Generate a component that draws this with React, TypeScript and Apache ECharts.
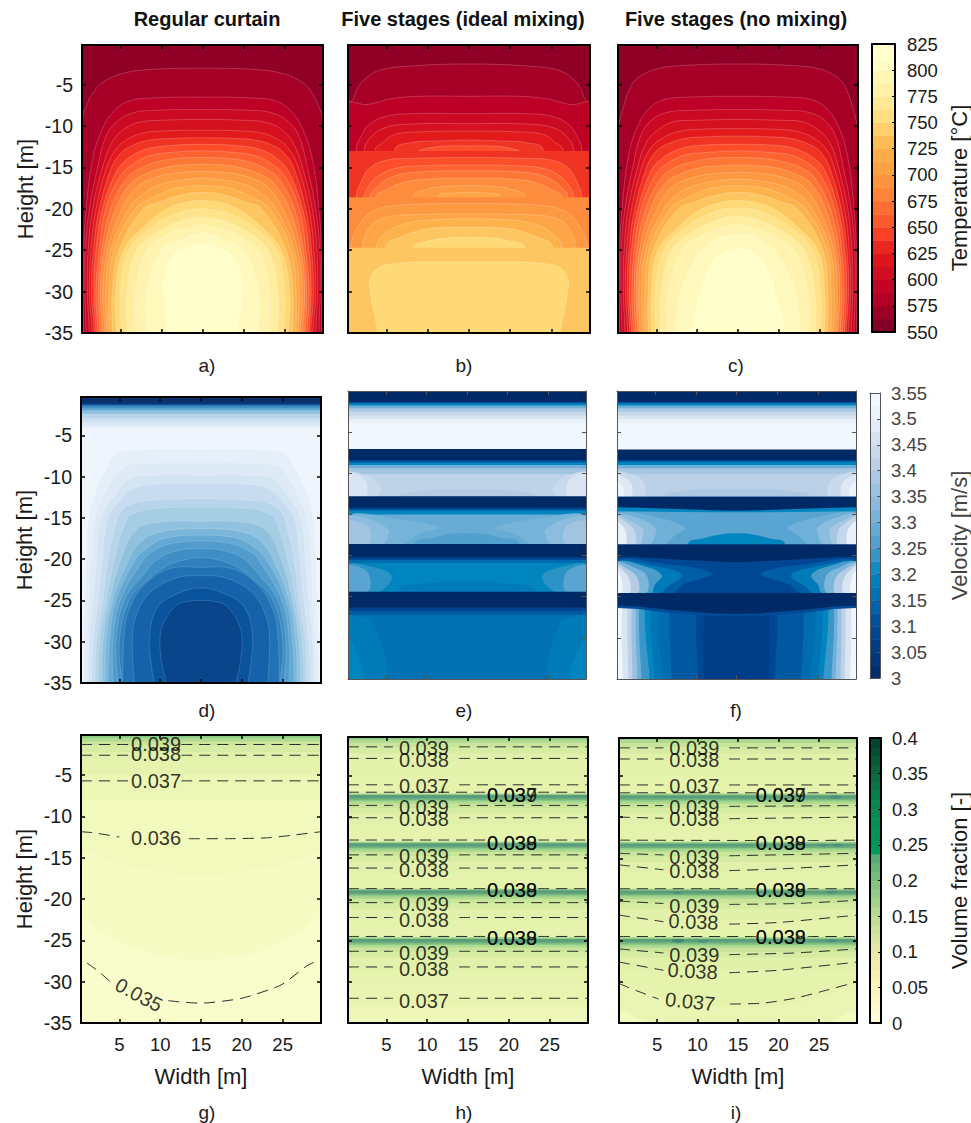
import React, { useEffect, useRef } from "react";
import * as echarts from "echarts";

type Region = [number, number | number[], number?];

const xTicks = [5, 10, 15, 20, 25];
const yTicks = [-5, -10, -15, -20, -25, -30, -35];
const columnTitles = ["Regular curtain", "Five stages (ideal mixing)", "Five stages (no mixing)"];
const panelLetters = ["a)", "b)", "c)", "d)", "e)", "f)", "g)", "h)", "i)"];

const panelA: Region[] = [
  [562.5, 0],
  [575, [0.3, -9.5, 1, -7.2, 2, -5.5, 3, -4.6, 5, -3.7, 8, -3.2, 15, -3]],
  [587.5, [0.5, -35, 0.45, -30, 0.5, -25, 0.8, -20, 1.5, -14.5, 2.5, -11, 4, -8.4, 6, -7, 9, -6.6, 15, -6.5]],
  [600, [0.8, -35, 0.65, -30, 0.7, -25, 1.2, -20, 2.2, -15, 3.2, -11.3, 4.5, -9.5, 6.5, -8.4, 9, -8.1, 15, -8]],
  [612.5, [1.2, -35, 0.95, -30, 1.05, -25, 1.6, -20, 2.8, -15, 3.8, -12.3, 5, -10.7, 7, -9.6, 10, -9.3, 15, -9.2]],
  [625, [1.55, -35, 1.2, -30, 1.4, -25, 2, -20, 3.3, -15, 4.3, -13, 5.5, -11.8, 7.5, -10.9, 10, -10.6, 15, -10.5]],
  [637.5, [1.8, -35, 1.45, -30, 1.7, -25, 2.4, -20, 3.9, -15, 5, -13.3, 6.5, -12.3, 8.5, -11.7, 11, -11.5, 15, -11.4]],
  [650, [2, -35, 1.75, -30, 2, -25, 2.8, -20, 4.5, -15.5, 5.8, -14, 7.5, -13, 9.5, -12.5, 15, -12.2]],
  [662.5, [2.25, -35, 2, -30, 2.4, -25, 3.2, -20, 5, -16, 6.5, -14.6, 8.5, -13.6, 11, -13.2, 15, -13]],
  [675, [2.5, -35, 2.3, -30, 2.7, -25, 3.8, -20, 5.6, -16.5, 7.2, -15.2, 9.5, -14.3, 12, -13.9, 15, -13.8]],
  [687.5, [2.8, -35, 2.55, -30, 3, -25, 4.4, -20, 6.2, -17, 8, -15.8, 10.5, -15, 12.5, -14.7, 15, -14.6]],
  [700, [3.1, -35, 2.85, -30, 3.4, -25, 5.2, -20, 7, -17.4, 9, -16.3, 11.5, -15.7, 15, -15.5]],
  [712.5, [3.35, -35, 3.2, -30, 3.8, -25, 6, -20, 8, -18, 10, -17, 12.5, -16.5, 15, -16.3]],
  [725, [3.6, -35, 3.6, -30, 4.2, -25, 6.8, -20, 9, -18.6, 11, -17.7, 13, -17.3, 15, -17.2]],
  [737.5, [4, -35, 4, -30, 4.8, -25, 7.8, -20, 10, -19.1, 12, -18.4, 15, -18]],
  [750, [4.5, -35, 4.4, -30, 5.4, -25, 8, -22, 10.7, -20, 13, -19.2, 15, -19]],
  [762.5, [5.1, -35, 5, -30, 6, -25, 9, -22, 12, -20.5, 15, -20]],
  [775, [5.8, -35, 5.8, -30, 7, -25, 10, -22.5, 13, -21.3, 15, -21]],
  [787.5, [6.8, -35, 6.8, -30, 8.2, -25, 11, -23, 13.5, -22.2, 15, -21.9]],
  [800, [8.2, -35, 8.2, -30, 10, -25, 12.5, -23.7, 15, -22.9]],
  [812.5, [10.7, -35, 10.2, -30, 10.4, -27.5, 11.5, -25.5, 12.5, -25, 15, -24.2]],
];

const panelB: Region[] = [
  [562.5, 0],
  [575, [0.3, -7.3, 0.9, -6.8, 1.4, -5.5, 2.5, -4.2, 4, -3.3, 7, -2.8, 15, -2.5]],
  [587.5, [0.3, -7.4, 2.5, -7.4, 4, -7.1, 5.5, -6.7, 9, -6.4, 15, -6.4]],
  [600, [1.3, -12.9, 2, -11, 3, -9.7, 5, -8.8, 8, -8.5, 15, -8.5]],
  [612.5, [2.3, -12.9, 3, -11.4, 4.5, -10.3, 7, -9.8, 15, -9.7]],
  [625, [3.6, -12.9, 4.5, -12, 6, -11, 9, -10.7, 15, -10.6]],
  [637.5, [6, -12.9, 8, -12, 11, -11.8, 15, -11.7]],
  [650, [9.1, -13, 11, -12.5, 15, -12.4], 2],
  [637.5, -13],
  [650, [1.3, -18.6, 2, -16.5, 3, -15, 5, -14.1, 8, -13.9, 15, -13.8]],
  [662.5, [2.3, -18.6, 3, -17, 4, -16, 6, -15.1, 9, -14.8, 15, -14.7]],
  [675, [3, -18.6, 4, -17.2, 5.5, -16.2, 8, -15.6, 15, -15.4]],
  [687.5, [3.7, -18.6, 5, -17.7, 7, -16.8, 10, -16.4, 15, -16.3]],
  [700, [8.2, -18.6, 10, -17.6, 12, -17.3, 15, -17.2]],
  [712.5, [11.2, -18.6, 13, -18.1, 15, -18]],
  [687.5, -18.6],
  [700, [0.6, -24.7, 1.9, -21.6, 3.5, -20.2, 6, -19.6, 10, -19.4, 15, -19.35]],
  [712.5, [2.1, -24.7, 3.1, -22, 5, -21, 8, -20.7, 15, -20.6]],
  [725, [3.7, -24.7, 5.2, -22.7, 8, -21.6, 11, -21.3, 15, -21.2]],
  [737.5, [4.8, -24.7, 7, -23.3, 10, -22.4, 15, -22.2]],
  [750, [8.2, -24.7, 10, -23.9, 12.5, -23.5, 15, -23.45]],
  [737.5, -24.7],
  [750, [3.9, -35, 3, -30, 3, -28.4, 4, -27.1, 6, -26.6, 10, -26.4, 15, -26.4]],
];

const panelC: Region[] = [
  [562.5, 0],
  [575, [0.3, -11, 1, -7.6, 2, -5, 3, -4, 5, -3.1, 8, -2.7, 15, -2.5]],
  [587.5, [0.5, -35, 0.45, -30, 0.5, -25, 0.8, -20, 1.5, -14, 2.5, -10.5, 4, -8, 6, -6.8, 9, -6.5, 15, -6.4]],
  [600, [0.8, -35, 0.65, -30, 0.7, -25, 1.15, -20, 2.1, -15, 3.1, -11.1, 4.5, -9.2, 6.5, -8.3, 9, -8.1, 15, -8]],
  [612.5, [1.15, -35, 0.95, -30, 1.05, -25, 1.55, -20, 2.7, -15, 3.7, -12.1, 5, -10.6, 7, -9.5, 10, -9.3, 15, -9.2]],
  [625, [1.5, -35, 1.2, -30, 1.35, -25, 1.95, -20, 3.2, -15, 4.2, -12.8, 5.5, -11.6, 7.5, -10.7, 10, -10.4, 15, -10.3]],
  [637.5, [1.75, -35, 1.45, -30, 1.65, -25, 2.35, -20, 3.8, -15, 4.9, -13.1, 6.5, -12.1, 8.5, -11.5, 11, -11.3, 15, -11.2]],
  [650, [1.95, -35, 1.7, -30, 1.95, -25, 2.75, -20, 4.4, -15.3, 5.7, -13.9, 7.5, -12.9, 9.5, -12.4, 15, -12.2]],
  [662.5, [2.2, -35, 2, -30, 2.3, -25, 3.15, -20, 4.9, -15.9, 6.4, -14.5, 8.5, -13.5, 11, -13.2, 15, -13]],
  [675, [2.45, -35, 2.3, -30, 2.6, -25, 3.7, -20, 5.5, -16.4, 7.1, -15.1, 9.5, -14.3, 12, -13.9, 15, -13.8]],
  [687.5, [2.75, -35, 2.55, -30, 2.95, -25, 4.3, -20, 6.1, -16.9, 7.9, -15.8, 10.5, -15, 12.5, -14.8, 15, -14.7]],
  [700, [3, -35, 2.85, -30, 3.3, -25, 5.1, -20, 6.9, -17.4, 8.9, -16.4, 11.5, -15.8, 15, -15.6]],
  [712.5, [3.3, -35, 3.2, -30, 3.7, -25, 5.9, -20, 7.9, -18, 9.9, -17.1, 12.5, -16.6, 15, -16.4]],
  [725, [3.6, -35, 3.6, -30, 4.1, -25, 6.7, -20, 8.9, -18.6, 11, -17.7, 13, -17.3, 15, -17.2]],
  [737.5, [4, -35, 4, -30, 4.6, -25, 7.7, -20, 9.9, -19.1, 12, -18.4, 15, -18]],
  [750, [4.4, -35, 4.4, -30, 5.2, -25, 7.9, -22, 10.6, -20, 13, -19.2, 15, -19]],
  [762.5, [4.9, -35, 4.9, -30, 5.9, -25, 8.9, -22, 12, -20.4, 15, -19.9]],
  [775, [5.5, -35, 5.6, -30, 6.9, -25, 9.9, -22.5, 13, -21.2, 15, -20.9]],
  [787.5, [6.3, -35, 6.5, -30, 8.1, -25, 11, -23, 13.5, -22.2, 15, -21.9]],
  [800, [7.3, -35, 8, -30, 9.8, -26, 12, -23.8, 15, -23]],
  [812.5, [9.2, -35, 10.5, -30, 11.3, -27.5, 12.5, -25.8, 15, -24.8]],
];

const panelD: Region[] = [
  [3.05, 0], [3.1, -1.0], [3.2, -1.25], [3.25, -1.45], [3.3, -1.7], [3.35, -2], [3.4, -2.4], [3.43, -2.9], [3.46, -3.3], [3.48, -3.7], [3.51, -4],
  [3.49, [0.55, -35, 0.6, -30, 0.8, -25, 0.95, -20, 1.25, -15, 2.2, -11.5, 3.2, -9.5, 4.6, -7.3, 6.5, -6.8, 15, -6.7]],
  [3.475, [0.9, -35, 1, -30, 1.3, -25, 1.55, -20, 2, -15, 4, -10.5, 5.5, -8.8, 7.5, -8.4, 15, -8.3]],
  [3.45, [1.2, -35, 1.3, -30, 1.8, -25, 2.2, -20, 2.8, -15, 4.6, -12, 6, -10.4, 8, -9.9, 15, -9.8]],
  [3.425, [1.6, -35, 1.8, -30, 2.4, -25, 2.9, -20, 3.6, -15, 5, -13, 6.5, -11.6, 8.5, -11, 15, -10.8]],
  [3.4, [2, -35, 2.2, -30, 3, -25, 3.6, -20, 4.8, -15, 5.4, -14, 6.5, -13.3, 8.5, -12.9, 15, -12.7]],
  [3.375, [2.4, -35, 2.6, -30, 3.4, -25, 4.4, -20, 6, -15, 7, -14.4, 9, -13.9, 15, -13.7]],
  [3.35, [2.8, -35, 3, -30, 3.8, -25, 5.2, -20, 7, -16.5, 9.3, -15.6, 15, -15.4]],
  [3.325, [3.2, -35, 3.4, -30, 4.2, -25, 6.2, -20, 7.7, -17.8, 10, -16.7, 15, -16.3]],
  [3.3, [3.6, -35, 3.8, -30, 4.6, -25, 7, -20, 8.5, -18.6, 10.5, -17.5, 15, -17.1]],
  [3.275, [4.2, -35, 4.2, -30, 5.1, -25, 8, -20, 9, -19.1, 11, -18.2, 15, -17.8]],
  [3.25, [4.8, -35, 4.6, -30, 5.6, -25, 8, -21.8, 9.7, -20, 12, -19, 15, -18.7]],
  [3.225, [5.3, -35, 5, -30, 6.2, -25, 8.5, -22.5, 10.5, -21, 12.5, -20.2, 15, -19.8]],
  [3.2, [5.4, -35, 5.6, -29, 6.2, -26.1, 7.9, -23.3, 11, -21.2, 15, -21]],
  [3.175, [6.8, -35, 6.6, -29.7, 7, -27, 8.7, -24.1, 11.9, -22.3, 15, -22]],
  [3.15, [9.2, -35, 8.9, -32.6, 8.7, -29.3, 9.7, -25.8, 12.3, -24.1, 15, -23.5]],
  [3.125, [10.7, -35, 10.2, -32.6, 10, -29.3, 10.7, -27.2, 12.1, -25.5, 13.5, -25.1, 15, -25]],
];

const panelE: Region[] = [
  [3, 0], [3.1, -1.3], [3.2, -1.5], [3.3, -1.75], [3.38, -2.1], [3.43, -2.5], [3.47, -3], [3.5, -3.4], [3.53, -3.9],
  [3, -7.04], [3.1, -8.4], [3.2, -8.65], [3.3, -9], [3.37, -9.4], [3.42, -10.1],
  [3.44, [0, -10, 2.5, -10.2, 3.8, -11, 4.4, -12, 3.8, -12.85, 0, -12.85], 1],
  [3.47, [0, -10.1, 1.5, -10.2, 2.5, -11, 2.7, -12, 2.5, -12.85, 0, -12.85], 1],
  [3.4, [6.5, -12.85, 8, -12.3, 11, -12, 15, -12]],
  [3, -12.8], [3.1, -14.2], [3.2, -14.5], [3.29, -15],
  [3.31, [0, -15.2, 6, -15.5, 11.5, -16.6, 9, -17.4, 6.8, -18.65, 0, -18.65], 1],
  [3.34, [0, -15.4, 3, -15.6, 5, -16.6, 5.4, -17.2, 4.5, -18.65, 0, -18.65], 1],
  [3.37, [0, -16, 2.3, -16.1, 3.1, -17.1, 2.8, -18.65, 0, -18.65], 1],
  [3.26, [8.5, -18.65, 11, -17.8, 13.5, -17.3, 15, -17.3]],
  [3, -18.6], [3.08, -20.2], [3.15, -20.5], [3.2, -20.9],
  [3.23, [0, -21.2, 3, -21.3, 5.7, -22.5, 4, -24.45, 0, -24.45], 1],
  [3.27, [0, -21.4, 2, -21.5, 3, -22.6, 2.7, -24.45, 0, -24.45], 1],
  [3.18, [6.5, -24.45, 10, -23.4, 15, -23.2]],
  [3, -24.4], [3.08, -26.3], [3.12, -26.7], [3.16, -27.2],
  [3.18, [0, -27.5, 2, -27.5, 3.4, -28, 4.9, -35, 0, -35], 1],
  [3.2, [0, -30, 1, -31, 2.2, -35, 0, -35], 1],
];

const panelF: Region[] = [
  [3, 0], [3.1, -1.3], [3.2, -1.5], [3.3, -1.75], [3.38, -2.1], [3.43, -2.5], [3.47, -3], [3.5, -3.4], [3.53, -3.9],
  [3, -7.1], [3.1, -8.4], [3.2, -8.6], [3.3, -9], [3.38, -9.4], [3.41, -10.1],
  [3.44, [0, -10, 2, -10.1, 3.5, -11, 3.8, -12, 3.5, -12.9, 0, -12.9], 1],
  [3.48, [0, -10.3, 1.2, -10.5, 2, -11.2, 2.2, -12, 1.9, -12.9, 0, -12.9], 1],
  [3.52, [0, -11, 0.9, -11.5, 1.1, -12.9, 0, -12.9], 1],
  [3.39, [6, -12.9, 8, -12.2, 12, -11.9, 15, -11.9]],
  [3.27, -12.85],
  [3.3, [0, -15, 5, -15.3, 8.7, -16.6, 7.5, -17.5, 5.9, -18.7, 0, -18.7], 1],
  [3.34, [0, -15.1, 3, -15.5, 5, -16.6, 5, -17.5, 4.2, -18.7, 0, -18.7], 1],
  [3.38, [0, -15.2, 2, -15.8, 3.5, -16.8, 3.5, -17.5, 3, -18.7, 0, -18.7], 1],
  [3.43, [0, -15.3, 1.5, -16, 2.5, -17, 2.4, -18.7, 0, -18.7], 1],
  [3.5, [0, -15.8, 0.9, -16.3, 1.4, -17.2, 1.3, -18.7, 0, -18.7], 1],
  [3.2, [9, -18.7, 11, -17.9, 14, -17.3, 15, -17.3]],
  [3.2, [-1, -12.85, -1, -14.6, 3, -14.65, 8, -14.7, 12, -14.75, 15, -14.75], 3],
  [3, [-1, -12.85, -1, -14.1, 3, -14.2, 8, -14.35, 12, -14.5, 15, -14.55], 3],
  [3.09, -18.65],
  [3.13, [0, -20.8, 6, -21, 12, -22.2, 8.5, -23.5, 7, -24.6, 0, -24.6], 1],
  [3.18, [0, -20.9, 5, -21.3, 8.3, -22.4, 6.5, -23.8, 5.5, -24.6, 0, -24.6], 1],
  [3.25, [0, -20.9, 4, -21.4, 5.8, -22.4, 5, -23.5, 4.4, -24.6, 0, -24.6], 1],
  [3.32, [0, -20.9, 2.5, -21.5, 4, -22.5, 3.8, -24.6, 0, -24.6], 1],
  [3.4, [0, -21, 1.5, -21.6, 2.8, -22.7, 2.8, -24.6, 0, -24.6], 1],
  [3.47, [0, -21.2, 1, -21.8, 1.8, -22.8, 1.8, -24.6, 0, -24.6], 1],
  [3.53, [0, -21.6, 0.6, -22.2, 0.9, -23, 0.9, -24.6, 0, -24.6], 1],
  [3, [-1, -18.65, -1, -20.1, 3, -20.2, 8, -20.5, 12, -20.7, 15, -20.8], 3],
  [3.53, -24.55],
  [3.47, [1, -35, 0.9, -27, 1.4, -25, 15, -25]],
  [3.42, [1.7, -35, 1.6, -27, 2, -25, 15, -25]],
  [3.36, [2.2, -35, 2.1, -27, 2.5, -25, 15, -25]],
  [3.3, [2.8, -35, 2.6, -27, 3, -25, 15, -25]],
  [3.24, [3.3, -35, 3, -27, 3.5, -25, 15, -25]],
  [3.2, [4.3, -35, 3.7, -27, 4.2, -25, 15, -25]],
  [3.17, [4.9, -35, 4.4, -27, 5, -25, 15, -25]],
  [3.15, [5.9, -35, 5.3, -27, 6, -25, 15, -25]],
  [3.12, [7, -35, 6.8, -27, 7.5, -25, 15, -25]],
  [3.09, [10.3, -35, 10, -27.5, 10.5, -25, 15, -25]],
  [3.06, [11, -35, 11, -27.5, 11.5, -25, 15, -25]],
  [3.1, [-1, -24.55, -1, -26.3, 3, -26.5, 7, -27, 12, -27.3, 15, -27.3], 3],
  [3, [-1, -24.55, -1, -26, 3, -26.2, 7, -26.6, 12, -27, 15, -27.1], 3],
];

const panelG: Region[] = [
  [0.13, 0], [0.1, -0.5], [0.08, -0.9], [0.065, -1.4], [0.055, -2.2], [0.05, -3], [0.045, -5], [0.04, -8],
  [0.036, [0.3, -15, 5, -15.8, 10, -16.7, 15, -17]],
  [0.032, [0.3, -22.5, 3, -24, 7, -26, 11, -27, 15, -27.3]],
];

const panelH: Region[] = [
  [0.18, 0], [0.13, -0.3], [0.1, -0.6], [0.08, -1], [0.065, -1.5], [0.055, -2.3], [0.052, -3.2], [0.05, -5],
  [0.12, -7.15], [0.22, -7.35], [0.18, -7.7], [0.13, -7.9], [0.1, -8.1], [0.08, -8.4], [0.065, -8.9], [0.055, -9.6], [0.05, -11],
  [0.12, -13], [0.22, -13.2], [0.18, -13.55], [0.13, -13.75], [0.1, -13.95], [0.08, -14.25], [0.065, -14.75], [0.055, -15.45], [0.05, -16.8],
  [0.12, -18.7], [0.22, -18.9], [0.18, -19.25], [0.13, -19.45], [0.1, -19.65], [0.08, -19.95], [0.065, -20.45], [0.055, -21.15], [0.05, -22.5],
  [0.12, -24.6], [0.22, -24.8], [0.18, -25.15], [0.13, -25.35], [0.1, -25.55], [0.08, -25.85], [0.065, -26.35], [0.055, -27.05], [0.05, -28.5], [0.048, -30], [0.043, -33],
];

const panelI: Region[] = [
  [0.18, 0], [0.13, -0.3], [0.1, -0.6], [0.08, -1], [0.065, -1.5], [0.055, -2.3], [0.052, -3.2], [0.05, -5],
  [0.12, -7.15], [0.22, -7.35], [0.18, -7.7], [0.13, -7.9], [0.1, -8.1], [0.08, -8.4], [0.065, -8.9], [0.055, -9.6], [0.05, -11],
  [0.12, -13], [0.22, -13.2], [0.18, -13.55], [0.13, -13.75], [0.1, -13.95], [0.08, -14.25], [0.065, -14.75], [0.055, -15.45], [0.05, -16.8],
  [0.12, -18.7], [0.22, -18.9], [0.18, -19.25], [0.13, -19.45], [0.1, -19.65], [0.08, -19.95], [0.065, -20.45], [0.055, -21.15], [0.05, -22.5],
  [0.12, -24.6], [0.22, -24.8], [0.18, -25.15], [0.13, -25.35], [0.1, -25.55], [0.08, -25.85], [0.065, -26.35], [0.055, -27.05], [0.05, -28.5],
  [0.046, [0.3, -30.5, 5, -31.8, 10, -32.7, 15, -33]],
  [0.04, [0.3, -33.6, 4, -35, 8, -36]],
  [0.25, [26.2, -7.55, 27, -7.35, 27.9, -7.55, 27, -7.8], 4],
  [0.25, [24.8, -13.4, 25.5, -13.25, 26.2, -13.4, 25.5, -13.6], 4],
  [0.25, [26.6, -13.4, 27.3, -13.25, 28, -13.4, 27.3, -13.6], 4],
  [0.25, [25.8, -19.1, 26.6, -18.95, 27.4, -19.1, 26.6, -19.3], 4],
  [0.25, [6.8, -19.15, 7.5, -19, 8.2, -19.15, 7.5, -19.35], 4],
  [0.28, [6.8, -25, 7.6, -24.8, 8.4, -25, 7.6, -25.25], 4],
  [0.25, [10, -25, 10.7, -24.85, 11.4, -25, 10.7, -25.25], 4],
  [0.25, [25.8, -25, 26.6, -24.85, 27.4, -25, 26.6, -25.2], 4],
];

// dashed contour lines: each segment is x,y,x,y...
const gSegments = [
  [0.3, -1.3, 6.5, -1.3], [12.6, -1.3, 29.7, -1.3],
  [0.3, -2.6, 6.5, -2.6], [12.6, -2.6, 29.7, -2.6],
  [0.3, -5.7, 6.5, -5.7], [12.6, -5.7, 29.7, -5.7],
  [0.3, -11.85, 2, -12, 5, -12.5], [13.5, -12.7, 18, -12.7, 23, -12.6, 26, -12.3, 29.7, -11.85],
  [1.05, -27.75, 2.5, -28.8, 4.1, -30.2], [11, -32.3, 13, -32.5, 15, -32.6, 20, -32, 24.8, -30.4, 28.1, -28, 29.7, -27.3],
];
const gLabels: [number, number, string, number][] = [
  [9.5, -1.2, "0.039", 0], [9.5, -2.4, "0.038", 0], [9.5, -5.7, "0.037", 0], [9.5, -12.6, "0.036", 0], [7.4, -31.6, "0.035", -28],
];
const hSideY = [-1.5, -2.9, -6.1, -8.6, -10.1, -14.6, -16.2, -20.4, -22.2, -26.3, -28.2, -32];
const hSlotY = [-7, -12.8, -18.7, -24.5];
const hLabels: [number, number, string, number][] = [
  [9.6, -1.6, "0.039", 0], [9.6, -3.1, "0.038", 0], [9.6, -6.25, "0.037", 0],
  [20.4, -7.3, "0.039", 0], [20.4, -7.3, "0.037", 0],
  [9.6, -8.75, "0.039", 0], [9.6, -10.2, "0.038", 0],
  [20.4, -13.15, "0.039", 0], [20.4, -13.15, "0.038", 0],
  [9.6, -14.75, "0.039", 0], [9.6, -16.4, "0.038", 0],
  [20.4, -18.9, "0.039", 0], [20.4, -18.9, "0.038", 0],
  [9.6, -20.6, "0.039", 0], [9.6, -22.45, "0.038", 0],
  [20.4, -24.7, "0.039", 0], [20.4, -24.7, "0.038", 0],
  [9.6, -26.5, "0.039", 0], [9.6, -28.4, "0.038", 0], [9.6, -32.3, "0.037", 0],
];
const iSegments = [
  [0.3, -1.6, 5.8, -1.6], [13.9, -1.6, 29.7, -1.6],
  [0.3, -2.95, 5.8, -2.95], [13.9, -2.95, 29.7, -2.95],
  [0.3, -6.1, 5.8, -6.1], [13.9, -6.1, 29.7, -6.1],
  [0.3, -7.05, 17.3, -7.05], [23.6, -7.05, 29.7, -7.05],
  [0.3, -8.6, 5.8, -8.6], [13.9, -8.7, 29.7, -8.6],
  [0.3, -10, 5.8, -10.15], [13.9, -10.2, 29.7, -10],
  [0.3, -12.8, 17.3, -12.85], [23.6, -12.85, 29.7, -12.8],
  [0.3, -14.4, 5.8, -14.6], [13.9, -14.7, 29.7, -14.4],
  [0.3, -15.8, 5.8, -16.4], [13.9, -16.5, 20, -16.3, 29.7, -15.8],
  [0.3, -18.7, 17.3, -18.7], [23.6, -18.7, 29.7, -18.7],
  [0.3, -20.2, 5.8, -20.5], [13.9, -20.6, 22, -20.5, 29.7, -20.1],
  [0.3, -21.9, 5.8, -22.7], [13.9, -23, 20, -22.8, 29.7, -21.9],
  [0.3, -24.5, 17.3, -24.5], [23.6, -24.5, 29.7, -24.5],
  [0.3, -26, 5.8, -26.5], [13.9, -26.7, 22, -26.5, 29.7, -26],
  [0.3, -27.6, 5.8, -28.6], [13.9, -28.9, 20, -28.6, 29.7, -27.6],
  [0.3, -30.2, 2, -30.9, 5.2, -32.1], [14, -32.7, 18, -32.6, 22, -32, 26, -31, 29.7, -30],
];
const iLabels: [number, number, string, number][] = [
  [9.6, -1.6, "0.039", 0], [9.6, -3.1, "0.038", 0], [9.6, -6.2, "0.037", 0],
  [20.3, -7.3, "0.039", 0], [20.3, -7.3, "0.037", 0],
  [9.6, -8.75, "0.039", 0], [9.6, -10.2, "0.038", 0],
  [20.3, -13.15, "0.039", 0], [20.3, -13.15, "0.038", 0],
  [9.6, -14.9, "0.039", 0], [9.6, -16.5, "0.038", 0],
  [20.3, -18.9, "0.039", 0], [20.3, -18.9, "0.038", 0],
  [9.6, -20.8, "0.039", 0], [9.5, -22.7, "0.038", -2],
  [20.3, -24.6, "0.039", 0], [20.3, -24.6, "0.038", 0],
  [9.6, -26.7, "0.039", 0], [9.4, -28.7, "0.038", -3], [9.1, -32.4, "0.037", -6],
];

const tempStops: [number, string][] = [
  [550, "#7a0026"], [587.5, "#bd0026"], [625, "#e31a1c"], [650, "#fc4e2a"], [687.5, "#fd8d3c"], [725, "#feb24c"], [750, "#fed976"], [775, "#ffeda0"], [812.5, "#ffffcc"], [825, "#ffffd4"],
];
const velStops: [number, string][] = [
  [3, "#002a66"], [3.05, "#003a85"], [3.1, "#004a96"], [3.15, "#006cb0"], [3.2, "#0085bf"], [3.25, "#4a9ccb"], [3.3, "#6fb0d8"], [3.35, "#93bfdf"], [3.4, "#b5cce4"], [3.45, "#cfdeef"], [3.5, "#e8f0fa"], [3.55, "#f7fbff"],
];
const bluesStops: [number, string][] = [
  [3.09, "#08306b"], [3.145, "#08519c"], [3.2, "#2171b5"], [3.255, "#4292c6"], [3.31, "#6baed6"], [3.365, "#9ecae1"], [3.42, "#c6dbef"], [3.475, "#deebf7"], [3.53, "#f7fbff"],
];
const fracPanelStops: [number, string][] = [
  [0.03, "#fbfdd0"], [0.035, "#f7fbc4"], [0.04, "#f2f9bd"], [0.05, "#e6f3ac"], [0.06, "#dbeea6"], [0.08, "#c8e59a"], [0.1, "#b0da90"], [0.13, "#8ccb86"], [0.18, "#6cae7c"], [0.25, "#4f907a"], [0.3, "#3a7f6a"],
];
const fracBarStops: [number, string][] = [
  [0, "#fffde3"], [0.05, "#fff3b8"], [0.1, "#ebe9a6"], [0.15, "#bcdc92"], [0.2, "#7ec080"], [0.2375, "#50ab6e"], [0.24, "#009b58"], [0.3, "#078a50"], [0.35, "#0a6a40"], [0.4, "#023c2c"],
];

function ramp(stops: [number, string][]) {
  const rgb = stops.map(([v, c]) => [v, parseInt(c.slice(1, 3), 16), parseInt(c.slice(3, 5), 16), parseInt(c.slice(5, 7), 16)]);
  return (v: number) => {
    if (v <= rgb[0][0]) return `rgb(${rgb[0][1]},${rgb[0][2]},${rgb[0][3]})`;
    for (let i = 1; i < rgb.length; i++) {
      if (v <= rgb[i][0]) {
        const t = (v - rgb[i - 1][0]) / (rgb[i][0] - rgb[i - 1][0]);
        const c = [1, 2, 3].map((k) => Math.round(rgb[i - 1][k] + t * (rgb[i][k] - rgb[i - 1][k])));
        return `rgb(${c[0]},${c[1]},${c[2]})`;
      }
    }
    const l = rgb[rgb.length - 1];
    return `rgb(${l[1]},${l[2]},${l[3]})`;
  };
}
const tempColor = ramp(tempStops);
const velColor = ramp(velStops);
const bluesColor = ramp(bluesStops);
const fracColor = ramp(fracPanelStops);
const fracBarColor = ramp(fracBarStops);

const FONT = "Liberation Sans";
const INK = "#1a1a1a";

function pairs(a: number[]) {
  const out: number[][] = [];
  for (let i = 0; i < a.length; i += 2) out.push([a[i], a[i + 1]]);
  return out;
}
function mirror(p: number[][]) {
  return p.map(([x, y]) => [30 - x, y]);
}
function regionPolygons(r: Region): number[][][] {
  if (typeof r[1] === "number") {
    const y = r[1];
    return [[[-1, -37], [-1, y], [31, y], [31, -37]]];
  }
  const pts = pairs(r[1]);
  const mode = r[2] || 0;
  if (mode === 1) return [pts, mirror(pts)];
  if (mode === 4) return [pts];
  const m = mirror(pts).reverse();
  if (pts[pts.length - 1][0] === 15) m.shift();
  if (mode === 2 || mode === 3) return [[...pts, ...m]];
  const x0 = pts[0][0];
  return [[[x0, -37], ...pts, ...m, [30 - x0, -37]]];
}

type Panel = {
  box: number[];
  regions: Region[];
  color: (v: number) => string;
  edge: string;
  edgeWidth: number;
  contour?: string;
  showY?: boolean;
  showX?: boolean;
  yMax: number;
  segments?: number[][];
  labels?: [number, number, string, number][];
};

function sideAndSlot(side: number[], slot: number[]) {
  const out: number[][] = [];
  side.forEach((y) => {
    out.push([0.3, y, 5.8, y]);
    out.push([13.9, y, 29.7, y]);
  });
  slot.forEach((y) => {
    out.push([0.3, y, 17.3, y]);
    out.push([23.6, y, 29.7, y]);
  });
  return out;
}

const panels: Panel[] = [
  { box: [82, 45, 241, 288], regions: panelA, color: tempColor, edge: "#000", edgeWidth: 2, contour: "rgba(255,255,255,0.25)", showY: true, yMax: -0.2 },
  { box: [348, 45, 242, 288], regions: panelB, color: tempColor, edge: "#000", edgeWidth: 2, contour: "rgba(255,255,255,0.25)", yMax: -0.2 },
  { box: [618, 45, 240, 288], regions: panelC, color: tempColor, edge: "#000", edgeWidth: 2, contour: "rgba(255,255,255,0.25)", yMax: -0.2 },
  { box: [81, 397, 240, 286], regions: panelD, color: bluesColor, edge: "#000", edgeWidth: 2, contour: "rgba(255,255,255,0.18)", showY: true, yMax: -0.35 },
  { box: [348, 391, 238, 288], regions: panelE, color: velColor, edge: "#555", edgeWidth: 1, yMax: 0 },
  { box: [617, 391, 239, 288], regions: panelF, color: velColor, edge: "#555", edgeWidth: 1, yMax: 0 },
  { box: [81, 735, 240, 288], regions: panelG, color: fracColor, edge: "#000", edgeWidth: 2, showY: true, showX: true, yMax: -0.15, segments: gSegments, labels: gLabels },
  { box: [348, 737, 240, 286], regions: panelH, color: fracColor, edge: "#000", edgeWidth: 2, showX: true, yMax: -0.3, segments: sideAndSlot(hSideY, hSlotY), labels: hLabels },
  { box: [619, 738, 238, 285], regions: panelI, color: fracColor, edge: "#000", edgeWidth: 2, showX: true, yMax: -0.4, segments: iSegments, labels: iLabels },
];

const letterPos: [number, number][] = [
  [207, 365], [464, 365], [736, 365],
  [207, 710], [464, 710], [736, 710],
  [207, 1112], [464, 1112], [736, 1112],
];
const titlePos: [number, number][] = [[207, 19], [463, 19], [736, 19]];

const bars = [
  { box: [872, 44, 23, 288], min: 550, max: 825, interval: 25, step: 12.5, color: tempColor, name: "Temperature [°C]", edge: "#000", width: 2, text: INK, gap: 53, margin: 12 },
  { box: [870, 393, 22, 285], min: 3, max: 3.55, interval: 0.05, step: 0.025, color: velColor, name: "Velocity [m/s]", edge: "#555", width: 1, text: "#444", gap: 68, margin: 11 },
  { box: [870, 738, 23, 285], min: 0, max: 0.4, interval: 0.05, step: 0.0125, color: fracBarColor, name: "Volume fraction [-]", edge: "#000", width: 2, text: INK, gap: 67, margin: 11 },
];

function buildOption() {
  const grid: any[] = [];
  const xAxis: any[] = [];
  const yAxis: any[] = [];
  const series: any[] = [];

  const addFrame = (p: Panel, gi: number) => {
    const line = { show: true, onZero: false, lineStyle: { color: p.edge, width: p.edgeWidth } };
    const tick = { inside: true, length: 4, lineStyle: { color: p.edge, width: p.edgeWidth === 2 ? 1.5 : 1 } };
    const xa = (position: string, label: boolean) => ({
      type: "value", gridIndex: gi, position, min: 0.3, max: 29.7, z: 6, splitLine: { show: false },
      axisLine: line,
      axisTick: { ...tick, customValues: xTicks },
      axisLabel: { show: label, customValues: xTicks, fontFamily: FONT, fontSize: 18.5, color: INK, margin: 12 },
      ...(label ? { name: "Width [m]", nameLocation: "middle", nameGap: 42, nameTextStyle: { fontFamily: FONT, fontSize: 22, color: INK } } : {}),
    });
    const ya = (position: string, label: boolean) => ({
      type: "value", gridIndex: gi, position, min: -35, max: p.yMax, z: 6, splitLine: { show: false },
      axisLine: line,
      axisTick: { ...tick, customValues: yTicks.slice(0, 6) },
      axisLabel: { show: label, customValues: yTicks, fontFamily: FONT, fontSize: 19.5, color: INK, margin: 9 },
      ...(label ? { name: "Height [m]", nameLocation: "middle", nameGap: 46, nameRotate: 90, nameTextStyle: { fontFamily: FONT, fontSize: 22, color: INK } } : {}),
    });
    const xIndex = xAxis.length;
    const yIndex = yAxis.length;
    xAxis.push(xa("bottom", !!p.showX), xa("top", false));
    yAxis.push(ya("left", !!p.showY), ya("right", false));
    return { xIndex, yIndex };
  };

  panels.forEach((p) => {
    const gi = grid.length;
    grid.push({ left: p.box[0], top: p.box[1], width: p.box[2], height: p.box[3] });
    const { xIndex, yIndex } = addFrame(p, gi);
    series.push({
      type: "custom",
      coordinateSystem: "cartesian2d",
      xAxisIndex: xIndex,
      yAxisIndex: yIndex,
      clip: true,
      silent: true,
      z: 2,
      data: p.regions.map((r, i) => [15, i]),
      renderItem: (params: any, api: any) => {
        const r = p.regions[params.dataIndex];
        const flat = typeof r[1] === "number" || r[2] === 3;
        return {
          type: "group",
          children: regionPolygons(r).map((poly) => ({
            type: "polygon",
            shape: { points: poly.map((q) => api.coord(q)), smooth: flat ? 0 : 0.4 },
            style: {
              fill: p.color(r[0]),
              stroke: !flat && p.contour ? p.contour : p.color(r[0]),
              lineWidth: !flat && p.contour ? 0.8 : 0,
            },
          })),
        };
      },
    });
    if (p.segments) {
      const data: any[] = [];
      p.segments.forEach((s) => {
        pairs(s).forEach((q) => data.push(q));
        data.push(["-", "-"]);
      });
      series.push({
        type: "line",
        xAxisIndex: xIndex,
        yAxisIndex: yIndex,
        data,
        showSymbol: false,
        silent: true,
        z: 3,
        connectNulls: false,
        smooth: 0.2,
        lineStyle: { color: "#2a2a2a", width: 1, type: [11, 7] },
      });
    }
    if (p.labels) {
      series.push({
        type: "scatter",
        xAxisIndex: xIndex,
        yAxisIndex: yIndex,
        symbolSize: 0,
        silent: true,
        z: 4,
        data: p.labels.map(([x, y, text, rotate]) => ({
          value: [x, y],
          label: { show: true, position: "inside", formatter: text, rotate, fontFamily: FONT, fontSize: 20, color: "#000" },
        })),
      });
    }
  });

  bars.forEach((b) => {
    const gi = grid.length;
    grid.push({ left: b.box[0], top: b.box[1], width: b.box[2], height: b.box[3] });
    const line = { show: true, onZero: false, lineStyle: { color: b.edge, width: b.width } };
    const xIndex = xAxis.length;
    const yIndex = yAxis.length;
    ["bottom", "top"].forEach((position) =>
      xAxis.push({ type: "value", gridIndex: gi, position, min: 0, max: 1, z: 6, splitLine: { show: false }, axisLine: line, axisTick: { show: false }, axisLabel: { show: false } })
    );
    yAxis.push({ type: "value", gridIndex: gi, position: "left", min: b.min, max: b.max, interval: b.interval, z: 6, splitLine: { show: false }, axisLine: line, axisTick: { show: false }, axisLabel: { show: false } });
    yAxis.push({
      type: "value", gridIndex: gi, position: "right", min: b.min, max: b.max, interval: b.interval, z: 6, splitLine: { show: false },
      axisLine: line,
      axisTick: { inside: true, length: 3, lineStyle: { color: b.edge, width: 1 } },
      axisLabel: { fontFamily: FONT, fontSize: 18.5, color: b.text, margin: b.margin },
      name: b.name, nameLocation: "middle", nameGap: b.gap, nameRotate: 90,
      nameTextStyle: { fontFamily: FONT, fontSize: 22, color: b.text },
    });
    const lows: number[] = [];
    for (let v = b.min; v < b.max - 1e-9; v += b.step) lows.push(v);
    series.push({
      type: "custom",
      coordinateSystem: "cartesian2d",
      xAxisIndex: xIndex,
      yAxisIndex: yIndex,
      clip: true,
      silent: true,
      z: 2,
      data: lows.map((v) => [0, v]),
      renderItem: (params: any, api: any) => {
        const lo = api.value(1);
        const a = api.coord([0, lo]);
        const c = api.coord([1, lo + b.step]);
        return {
          type: "rect",
          shape: { x: a[0], y: c[1], width: c[0] - a[0], height: a[1] - c[1] + 0.5 },
          style: { fill: b.color(lo + b.step / 2) },
        };
      },
    });
  });

  const graphic: any[] = [];
  columnTitles.forEach((t, i) =>
    graphic.push({ type: "text", x: titlePos[i][0], y: titlePos[i][1], style: { text: t, font: `bold 20px "${FONT}"`, fill: "#111", textAlign: "center", textVerticalAlign: "middle" } })
  );
  panelLetters.forEach((t, i) =>
    graphic.push({ type: "text", x: letterPos[i][0], y: letterPos[i][1], style: { text: t, font: `19px "${FONT}"`, fill: INK, textAlign: "center", textVerticalAlign: "middle" } })
  );

  return { animation: false, backgroundColor: "#fff", grid, xAxis, yAxis, series, graphic };
}

export default function App() {
  const ref = useRef<HTMLDivElement>(null);
  useEffect(() => {
    document.body.style.margin = "0";
    const chart = echarts.init(ref.current!, undefined, { renderer: "svg" });
    chart.setOption(buildOption() as any);
    return () => chart.dispose();
  }, []);
  return <div ref={ref} style={{ width: 971, height: 1123 }} />;
}
